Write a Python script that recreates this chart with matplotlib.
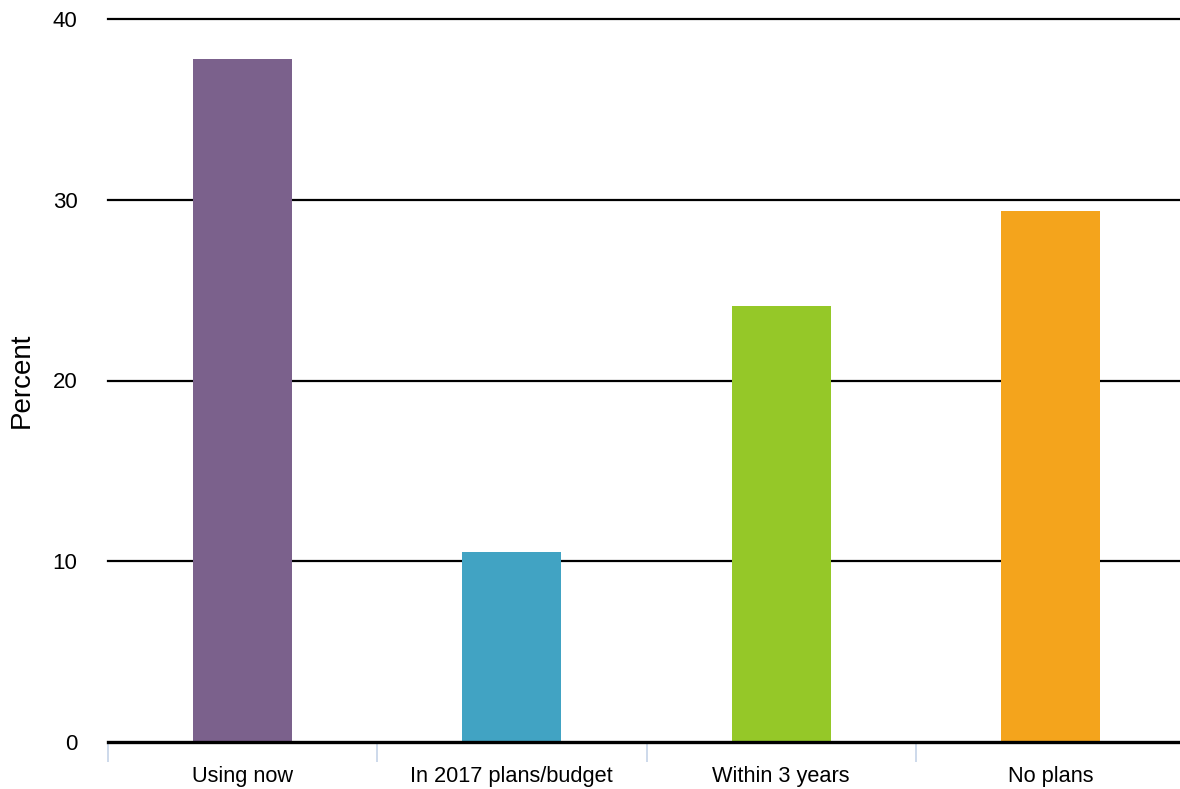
import matplotlib
matplotlib.use("Agg")
import matplotlib.pyplot as plt

categories = ["Using now", "In 2017 plans/budget", "Within 3 years", "No plans"]
values = [37.8, 10.5, 24.1, 29.4]
colors = ["#7B618C", "#41A3C3", "#95C828", "#F4A41C"]
yticks = [0, 10, 20, 30, 40]

plt.rcParams['font.family'] = ['Liberation Sans', 'DejaVu Sans']
W, H = 1180, 789
fig = plt.figure(figsize=(W/100, H/100), dpi=100)
left, right = 108/W, 1185/W
bottom, top = (H-742)/H, (H-19)/H
ax = fig.add_axes([left, bottom, right-left, top-bottom])

x = list(range(len(categories)))
ax.bar(x, values, width=0.368, color=colors, zorder=3)
ax.set_xlim(-0.5, len(categories)-0.5)
ax.set_ylim(0, 40)
ax.set_yticks(yticks)
for t in yticks[1:]:
    ax.axhline(t, color="black", lw=1.6, zorder=1, clip_on=False)
ax.axhline(0, color="black", lw=2.4, zorder=4, clip_on=False)

for s in ax.spines.values():
    s.set_visible(False)

ax.set_xticks([i - 0.5 for i in range(len(categories)+1)], minor=False)
ax.set_xticklabels([])
ax.tick_params(axis='x', which='major', length=14.5, color="#C5D3E8", width=1.2)
ax.set_xticks(x, minor=True)
ax.set_xticklabels(categories, minor=True, fontsize=15.7)
ax.tick_params(axis='x', which='minor', length=0, pad=17)
ax.tick_params(axis='y', length=0, pad=22, labelsize=16)
ax.set_ylabel("Percent", fontsize=20)
ax.yaxis.set_label_coords(-0.068, 0.5)

fig.savefig("out.png", dpi=100)
